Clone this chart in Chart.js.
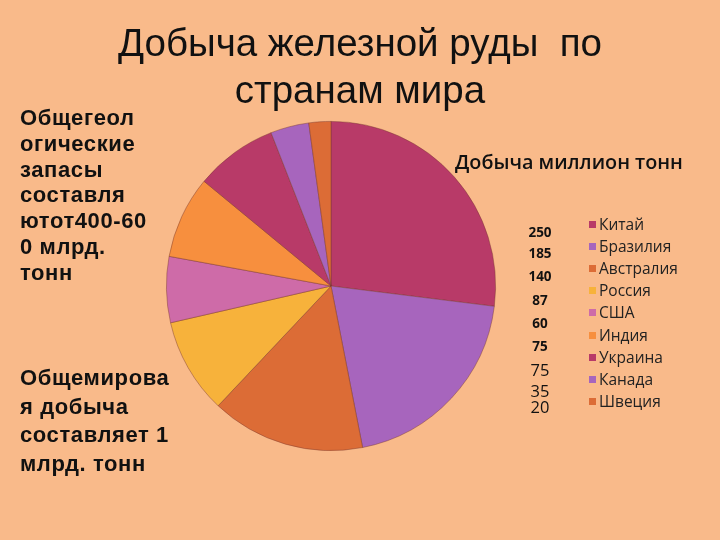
<!DOCTYPE html>
<html lang="ru">
<head>
<meta charset="utf-8">
<script src="https://cdn.jsdelivr.net/npm/chart.js@4/dist/chart.umd.min.js"></script>
<style>
  html, body { margin: 0; padding: 0; }
  body { width: 720px; height: 540px; background: #F9BA8A; position: relative; overflow: hidden; }
  #pie { position: absolute; left: 0; top: 0; }
  .title { position: absolute; left: 0; width: 720px; top: 19px; text-align: center;
    font-family: "Liberation Sans", Arial, sans-serif; font-size: 38.5px; line-height: 47px; color: #111; }
  .note { position: absolute; left: 20px; font-family: "Liberation Sans", Arial, sans-serif;
    font-weight: bold; font-size: 22px; letter-spacing: 0.6px; color: #111; }
  #note1 { top: 105px; line-height: 25.8px; }
  #note2 { top: 364px; line-height: 28.6px; }
  .sub { position: absolute; left: 455px; top: 148px; font-family: "Open Sans", sans-serif;
    font-weight: 600; font-size: 19.8px; color: #111; white-space: nowrap; }
  .num { position: absolute; width: 40px; left: 520px; text-align: center; color: #111;
    font-family: "Open Sans", sans-serif; }
  .leg { position: absolute; left: 589px; font-family: "Open Sans", sans-serif; font-size: 15.5px;
    color: #222; white-space: nowrap; }
  .leg i { display: inline-block; width: 7px; height: 7px; margin-right: 3px; vertical-align: 2px; }
</style>
</head>
<body>
<canvas id="pie" width="720" height="540"></canvas>
<div class="title">Добыча железной руды&nbsp; по<br>странам мира</div>
<div class="note" id="note1">Общегеол<br>огические<br>запасы<br>составля<br>ютот400-60<br>0 млрд.<br>тонн</div>
<div class="note" id="note2">Общемирова<br>я добыча<br>составляет 1<br>млрд. тонн</div>
<div class="sub">Добыча миллион тонн</div>
<div id="legend"></div>
<div id="numbers"></div>
<script>
// data
const countries = ['Китай', 'Бразилия', 'Австралия', 'Россия', 'США', 'Индия', 'Украина', 'Канада', 'Швеция'];
const output = [250, 185, 140, 87, 60, 75, 75, 35, 20];
const sliceColors = ['#B83A68', '#A765BD', '#DC6C36', '#F7B23B', '#CE6BA8', '#F78F3E', '#B83A68', '#A765BD', '#DC6C36'];

// pie
const pieChart = new Chart(document.getElementById('pie'), {
    type: 'pie',
    data: {
        labels: countries,
        datasets: [{
            data: output,
            backgroundColor: sliceColors,
            borderColor: 'rgba(120, 55, 45, 0.55)',
            borderWidth: 0.8
        }]
    },
    options: {
        responsive: false,
        animation: false,
        layout: { padding: { left: 166, top: 121, right: 224, bottom: 89 } },
        plugins: {
            legend: { display: false },
            tooltip: { enabled: false }
        }
    }
});

// legend (built from chart data)
const legendEl = document.getElementById('legend');
countries.forEach((name, i) => {
    const row = document.createElement('div');
    row.className = 'leg';
    row.style.top = (213 + i * 22.1) + 'px';
    row.innerHTML = `<i style="background:${pieChart.data.datasets[0].backgroundColor[i]}"></i>${name}`;
    legendEl.appendChild(row);
});

// value column next to the legend (first six small bold, rest plain, as on the slide)
const numTops = [223, 244, 267, 291, 314, 337, 358, 379, 395];
const numEl = document.getElementById('numbers');
output.forEach((v, i) => {
    const s = document.createElement('div');
    s.className = 'num';
    s.textContent = v;
    s.style.top = numTops[i] + 'px';
    if (i < 6) { s.style.fontWeight = 'bold'; s.style.fontSize = '13.5px'; }
    else { s.style.fontSize = '16.5px'; }
    numEl.appendChild(s);
});
</script>
</body>
</html>
